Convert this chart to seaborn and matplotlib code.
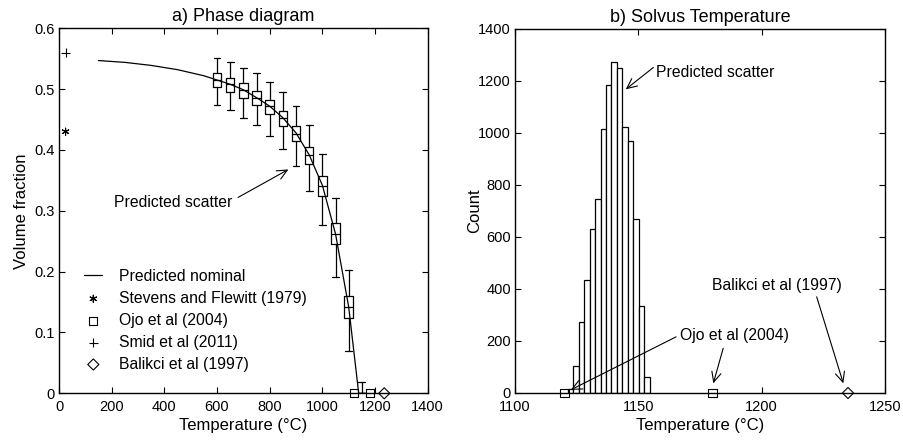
import numpy as np
import pandas as pd
import matplotlib
matplotlib.use("Agg")
import matplotlib.pyplot as plt
import seaborn as sns

# ---------------- data: a) phase diagram ----------------
nominal_T = [150, 250, 350, 450, 550, 600, 650, 700, 750, 800, 850, 900, 950, 1000, 1050, 1100, 1138]
nominal_vf = [0.547, 0.544, 0.539, 0.532, 0.522, 0.515, 0.508, 0.499, 0.486, 0.472, 0.453,
              0.428, 0.392, 0.342, 0.262, 0.142, 0.0]

box_T = [600, 650, 700, 750, 800, 850, 900, 950, 1000, 1050, 1100, 1150]
whisk_hi = [0.551, 0.544, 0.535, 0.526, 0.512, 0.496, 0.472, 0.441, 0.393, 0.321, 0.203, 0.018]
q3 = [0.526, 0.518, 0.510, 0.497, 0.482, 0.464, 0.440, 0.405, 0.357, 0.280, 0.160, 0.0]
med = [0.515, 0.509, 0.499, 0.486, 0.473, 0.453, 0.427, 0.392, 0.341, 0.262, 0.142, 0.0]
q1 = [0.504, 0.496, 0.486, 0.474, 0.459, 0.440, 0.414, 0.377, 0.325, 0.245, 0.123, 0.0]
whisk_lo = [0.474, 0.466, 0.453, 0.441, 0.423, 0.401, 0.373, 0.332, 0.276, 0.192, 0.069, 0.0]

stevens_T = [25]
stevens_vf = [0.43]
smid_T = [25]
smid_vf = [0.56]
ojo_T = [1120, 1180]
ojo_vf = [0.0, 0.0]
balikci_T = [1235]
balikci_vf = [0.0]

# ---------------- data: b) solvus temperature ----------------
bin_edges = [1121.5, 1123.7, 1125.9, 1128.1, 1130.3, 1132.5, 1134.7, 1136.9, 1139.1,
             1141.3, 1143.5, 1145.7, 1147.9, 1150.2, 1152.4, 1154.6]
counts = [15, 103, 273, 435, 632, 745, 1014, 1185, 1274, 1249, 1024, 970, 668, 336, 63]
ojo_solvus = [1120, 1180]
balikci_solvus = [1235]

# ---------------- style ----------------
sns.set_style("ticks")
plt.rcParams["font.family"] = ["Liberation Sans", "DejaVu Sans"]
plt.rcParams["text.color"] = "black"
plt.rcParams["axes.labelcolor"] = "black"
plt.rcParams["axes.linewidth"] = 1.0
plt.rcParams["xtick.direction"] = "in"
plt.rcParams["ytick.direction"] = "in"
plt.rcParams["xtick.top"] = True
plt.rcParams["ytick.right"] = True
plt.rcParams["xtick.major.size"] = 4
plt.rcParams["ytick.major.size"] = 4
plt.rcParams["xtick.labelsize"] = 10.5
plt.rcParams["ytick.labelsize"] = 10.5
plt.rcParams["axes.edgecolor"] = "black"
plt.rcParams["xtick.color"] = "black"
plt.rcParams["ytick.color"] = "black"
plt.rcParams["xtick.labelcolor"] = "black"
plt.rcParams["ytick.labelcolor"] = "black"

W, H = 904, 445
fig = plt.figure(figsize=(W / 100, H / 100), dpi=100)
ax1 = fig.add_axes([59 / W, 1 - 393.3 / H, (427.7 - 59) / W, (393.3 - 28.3) / H])
ax2 = fig.add_axes([515 / W, 1 - 393.0 / H, (885 - 515) / W, (393.0 - 29) / H])

LW = 0.9
TXT = 11.3

# ---------------- left panel ----------------
sns.lineplot(x=nominal_T, y=nominal_vf, ax=ax1, color="black", lw=LW, label="Predicted nominal")

stats = [dict(whislo=lo, q1=a, med=m, q3=b, whishi=hi, fliers=[])
         for lo, a, m, b, hi in zip(whisk_lo, q1, med, q3, whisk_hi)]
props = dict(color="black", lw=LW)
ax1.bxp(stats, positions=box_T, widths=32, capwidths=26, showfliers=False,
        boxprops=props, medianprops=props, whiskerprops=props, capprops=props,
        manage_ticks=False)

def pts(ax, x, y, marker, size, label=None, open_face=True):
    sns.scatterplot(x=x, y=y, ax=ax, marker=marker, s=size, label=label, legend=False)
    coll = ax.collections[-1]
    coll.set_facecolor("none" if open_face else "black")
    coll.set_edgecolor("black")
    coll.set_linewidth(0.8)
    coll.set_clip_on(False)
    coll.set_zorder(5)
    return coll

h_st = pts(ax1, stevens_T, stevens_vf, (6, 2, 0), 26, "Stevens and Flewitt (1979)")
h_ojo = pts(ax1, ojo_T, ojo_vf, "s", 36, "Ojo et al (2004)")
h_sm = pts(ax1, smid_T, smid_vf, "+", 40, "Smid et al (2011)")
h_ba = pts(ax1, balikci_T, balikci_vf, "D", 32, "Balikci et al (1997)")

line_handle = ax1.lines[0]
leg = ax1.legend([line_handle, h_st, h_ojo, h_sm, h_ba],
                 ["Predicted nominal", "Stevens and Flewitt (1979)", "Ojo et al (2004)",
                  "Smid et al (2011)", "Balikci et al (1997)"],
                 loc="center left", bbox_to_anchor=(0.0686, 0.2), frameon=False,
                 fontsize=TXT, borderpad=0, borderaxespad=0, handlelength=1.15,
                 handletextpad=1.06, labelspacing=0.44, scatterpoints=1)
for t in leg.get_texts():
    t.set_color("black")

ax1.set_xlim(0, 1400)
ax1.set_ylim(0, 0.6)
ax1.set_xticks([0, 200, 400, 600, 800, 1000, 1200, 1400])
ax1.set_yticks([0, 0.1, 0.2, 0.3, 0.4, 0.5, 0.6])
ax1.set_yticklabels(["0", "0.1", "0.2", "0.3", "0.4", "0.5", "0.6"])
ax1.set_xlabel("Temperature (°C)", fontsize=12, labelpad=3)
ax1.set_ylabel("Volume fraction", fontsize=12, labelpad=4)
ax1.set_title("a) Phase diagram", fontsize=13, pad=5)

arrow = dict(arrowstyle="->,head_length=0.6,head_width=0.28", color="black", lw=0.8,
             shrinkA=0, shrinkB=0, mutation_scale=12)
ax1.text(210, 0.314, "Predicted scatter", fontsize=TXT, ha="left", va="center")
ax1.annotate("", xy=(871, 0.368), xytext=(680, 0.322), arrowprops=arrow)

# ---------------- right panel ----------------
centers = [(a + b) / 2 for a, b in zip(bin_edges[:-1], bin_edges[1:])]
hist_df = pd.DataFrame({"T": centers, "n": counts})
sns.histplot(data=hist_df, x="T", weights="n", bins=bin_edges, ax=ax2,
             color="white", edgecolor="black", linewidth=0.9, alpha=1)

pts(ax2, ojo_solvus, [0] * len(ojo_solvus), "s", 36)
pts(ax2, balikci_solvus, [0] * len(balikci_solvus), "D", 32)

ax2.set_xlim(1100, 1250)
ax2.set_ylim(0, 1400)
ax2.set_xticks([1100, 1150, 1200, 1250])
ax2.set_yticks(range(0, 1401, 200))
ax2.set_xlabel("Temperature (°C)", fontsize=12, labelpad=3)
ax2.set_ylabel("Count", fontsize=12, labelpad=-3)
ax2.set_title("b) Solvus Temperature", fontsize=13, pad=5)

ax2.text(1157.2, 1232, "Predicted scatter", fontsize=TXT, ha="left", va="center")
ax2.annotate("", xy=(1144.9, 1168), xytext=(1156.1, 1252), arrowprops=arrow)

ax2.text(1166.9, 220, "Ojo et al (2004)", fontsize=TXT, ha="left", va="center")
ax2.annotate("", xy=(1122.6, 12), xytext=(1165.3, 216), arrowprops=arrow)
ax2.annotate("", xy=(1180.4, 37), xytext=(1184.4, 172), arrowprops=arrow)

ax2.text(1179.7, 415, "Balikci et al (1997)", fontsize=TXT, ha="left", va="center")
ax2.annotate("", xy=(1233.1, 37), xytext=(1222.3, 370), arrowprops=arrow)

for ax in (ax1, ax2):
    for s in ax.spines.values():
        s.set_visible(True)
        s.set_color("black")
    ax.tick_params(which="both", top=True, right=True, direction="in")
    ax.tick_params(axis="x", pad=5)
    ax.tick_params(axis="y", pad=3)

fig.savefig("out.png", dpi=100)
